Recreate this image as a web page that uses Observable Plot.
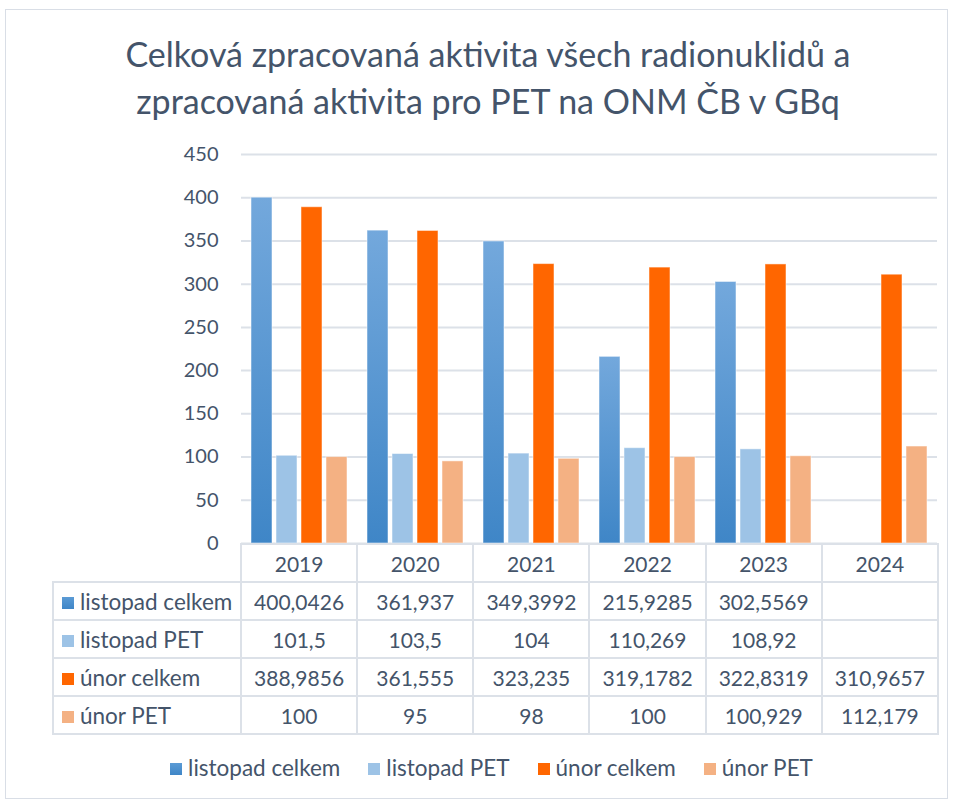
<!DOCTYPE html>
<html><head><meta charset="utf-8">
<script src="https://cdn.jsdelivr.net/npm/d3@7"></script>
<script src="https://cdn.jsdelivr.net/npm/@observablehq/plot@0.6"></script>
<style>
body{margin:0;background:#fff;font-family:Lato,"Open Sans",sans-serif;color:#44546A;}
#page{position:relative;width:955px;height:803px;overflow:hidden;}
#frame{position:absolute;left:5px;top:9px;width:943px;height:790px;border:1px solid #D9DEE6;box-sizing:border-box;}
#title{position:absolute;left:0;top:30px;width:976px;text-align:center;font-size:34px;line-height:47px;color:#44546A;}
#chart{position:absolute;left:0;top:140px;}
#table{position:absolute;left:52px;top:543px;border-collapse:collapse;font-size:21px;color:#44546A;table-layout:fixed;}
#table td{border:2px solid #DCE1E8;height:36px;padding:0;text-align:center;white-space:nowrap;}
#table td.lab{text-align:left;padding-left:8px;font-size:22.5px;}
#table td.blank{border-top:none;border-left:none;}
.sw{display:inline-block;width:12px;height:12px;margin-right:6px;vertical-align:1px;}
#legend{position:absolute;left:0;top:754px;width:983px;text-align:center;font-size:22.5px;color:#44546A;}
#legend span.item{margin:0 14px;white-space:nowrap;}
</style></head>
<body><div id="page"><div id="frame"></div>
<div id="title">Celková zpracovaná aktivita všech radionuklidů a<br>zpracovaná aktivita pro PET na ONM ČB v GBq</div>
<div id="chart"></div>
<table id="table"></table>
<div id="legend"></div>
</div>
<script>
const years = ["2019","2020","2021","2022","2023","2024"];
const series = ["listopad celkem","listopad PET","únor celkem","únor PET"];
const listopadCelkem = [400.0426, 361.937, 349.3992, 215.9285, 302.5569, null];
const listopadPET = [101.5, 103.5, 104, 110.269, 108.92, null];
const unorCelkem = [388.9856, 361.555, 323.235, 319.1782, 322.8319, 310.9657];
const unorPET = [100, 95, 98, 100, 100.929, 112.179];
const yTicks = [0,50,100,150,200,250,300,350,400,450];
const colors = ["#5B9BD5","#9DC3E6","#FF6600","#F4B183"];

const values = [listopadCelkem, listopadPET, unorCelkem, unorPET];
const data = [];
series.forEach((s,i)=>years.forEach((y,j)=>{ if(values[i][j]!=null) data.push({year:y, series:s, value:values[i][j]}); }));

const W=955, ML=240, MR=18;
const plot = Plot.plot({
  width: W, height: 415, marginLeft: ML, marginRight: MR, marginTop: 14, marginBottom: 12,
  style:{fontFamily:"Lato, 'Open Sans', sans-serif", overflow:"visible", background:"transparent"},
  fx:{domain:years, padding:0, axis:null},
  x:{domain:series, paddingInner:0.16, paddingOuter:0.4, axis:null},
  y:{domain:[0,450], axis:null},
  color:{domain:series, range:["url(#gradBlue)", colors[1], colors[2], colors[3]]},
  marks:[
    Plot.gridY(yTicks, {stroke:"#DCE1E8", strokeOpacity:1, strokeWidth:2}),
    Plot.axisY(yTicks, {tickSize:0, tickPadding:23, fontSize:20, fill:"#44546A", label:null, tickFormat:d=>String(d)}),
    Plot.barY(data, {fx:"year", x:"series", y:"value", fill:"series", stroke:"white", strokeOpacity:0.5, strokeWidth:1})
  ]
});
const svg = plot.tagName.toLowerCase()==="svg" ? plot : plot.querySelector("svg");
const defs = d3.select(svg).insert("defs", ":first-child");
const g = defs.append("linearGradient").attr("id","gradBlue").attr("x1",0).attr("y1",0).attr("x2",0).attr("y2",1);
g.append("stop").attr("offset","0%").attr("stop-color","#73A8DC");
g.append("stop").attr("offset","100%").attr("stop-color","#3F86C7");
document.getElementById("chart").appendChild(plot);

// data table
const colW = (W-ML-MR)/years.length;
const fmt = v => v==null ? "" : String(v).replace(".", ",");
const tbl = d3.select("#table");
const cg = tbl.append("colgroup");
cg.append("col").style("width", (ML-52)+"px");
years.forEach(()=>cg.append("col").style("width", colW+"px"));
const hr = tbl.append("tr");
hr.append("td").attr("class","blank");
years.forEach(y=>hr.append("td").text(y));
series.forEach((s,i)=>{
  const tr = tbl.append("tr");
  const td = tr.append("td").attr("class","lab");
  td.append("span").attr("class","sw").style("background", i===0 ? "linear-gradient(#5B9BD5,#3F86C7)" : colors[i]);
  td.append("span").text(s);
  years.forEach((y,j)=>tr.append("td").text(fmt(values[i][j])));
});

// legend
const lg = d3.select("#legend");
series.forEach((s,i)=>{
  const it = lg.append("span").attr("class","item");
  it.append("span").attr("class","sw").style("background", i===0 ? "linear-gradient(#5B9BD5,#3F86C7)" : colors[i]);
  it.append("span").text(s);
});
</script>
</body></html>
